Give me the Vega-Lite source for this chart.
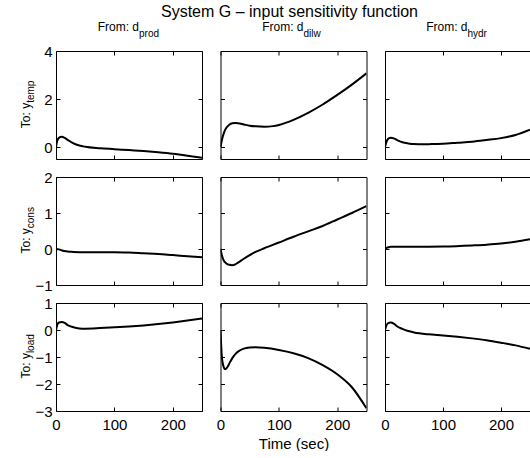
{
  "$schema": "https://vega.github.io/schema/vega-lite/v6.json",
  "padding": {"left": 20, "top": 3, "right": 0, "bottom": 0},
  "config": {
    "view": {"stroke": null},
    "axis": {"tickSize": -4, "domainColor": "black", "domainWidth": 1, "tickColor": "black", "labelColor": "black", "labelFont": "Liberation Sans", "labelFontSize": 15, "labelPadding": 8, "grid": false, "titleFont": "Liberation Sans", "titleFontSize": 15, "titleColor": "black", "titleFontWeight": "normal", "labelFlush": false, "labelOverlap": false, "labelBound": false, "titlePadding": 4}
  },
  "datasets": {
    "curves": [
      {"r":"temp","c":"prod","t":0,"v":0},{"r":"temp","c":"prod","t":2,"v":0.25},{"r":"temp","c":"prod","t":5,"v":0.38},{"r":"temp","c":"prod","t":10,"v":0.43},{"r":"temp","c":"prod","t":15,"v":0.38},{"r":"temp","c":"prod","t":20,"v":0.3},{"r":"temp","c":"prod","t":30,"v":0.15},{"r":"temp","c":"prod","t":40,"v":0.06},{"r":"temp","c":"prod","t":50,"v":0.01},{"r":"temp","c":"prod","t":75,"v":-0.05},{"r":"temp","c":"prod","t":100,"v":-0.09},{"r":"temp","c":"prod","t":125,"v":-0.13},{"r":"temp","c":"prod","t":150,"v":-0.17},{"r":"temp","c":"prod","t":175,"v":-0.22},{"r":"temp","c":"prod","t":200,"v":-0.28},{"r":"temp","c":"prod","t":225,"v":-0.36},{"r":"temp","c":"prod","t":250,"v":-0.45},
      {"r":"temp","c":"dilw","t":0,"v":0},{"r":"temp","c":"dilw","t":3,"v":0.35},{"r":"temp","c":"dilw","t":6,"v":0.6},{"r":"temp","c":"dilw","t":10,"v":0.8},{"r":"temp","c":"dilw","t":15,"v":0.93},{"r":"temp","c":"dilw","t":20,"v":0.99},{"r":"temp","c":"dilw","t":25,"v":1.0},{"r":"temp","c":"dilw","t":30,"v":0.99},{"r":"temp","c":"dilw","t":40,"v":0.94},{"r":"temp","c":"dilw","t":50,"v":0.89},{"r":"temp","c":"dilw","t":60,"v":0.86},{"r":"temp","c":"dilw","t":75,"v":0.84},{"r":"temp","c":"dilw","t":90,"v":0.87},{"r":"temp","c":"dilw","t":100,"v":0.92},{"r":"temp","c":"dilw","t":125,"v":1.13},{"r":"temp","c":"dilw","t":150,"v":1.42},{"r":"temp","c":"dilw","t":175,"v":1.77},{"r":"temp","c":"dilw","t":200,"v":2.17},{"r":"temp","c":"dilw","t":225,"v":2.6},{"r":"temp","c":"dilw","t":250,"v":3.07},
      {"r":"temp","c":"hydr","t":0,"v":0},{"r":"temp","c":"hydr","t":3,"v":0.25},{"r":"temp","c":"hydr","t":6,"v":0.35},{"r":"temp","c":"hydr","t":10,"v":0.39},{"r":"temp","c":"hydr","t":15,"v":0.36},{"r":"temp","c":"hydr","t":20,"v":0.3},{"r":"temp","c":"hydr","t":30,"v":0.2},{"r":"temp","c":"hydr","t":40,"v":0.15},{"r":"temp","c":"hydr","t":50,"v":0.12},{"r":"temp","c":"hydr","t":65,"v":0.11},{"r":"temp","c":"hydr","t":80,"v":0.12},{"r":"temp","c":"hydr","t":100,"v":0.14},{"r":"temp","c":"hydr","t":125,"v":0.18},{"r":"temp","c":"hydr","t":150,"v":0.22},{"r":"temp","c":"hydr","t":175,"v":0.29},{"r":"temp","c":"hydr","t":200,"v":0.37},{"r":"temp","c":"hydr","t":225,"v":0.5},{"r":"temp","c":"hydr","t":250,"v":0.72},
      {"r":"cons","c":"prod","t":0,"v":0},{"r":"cons","c":"prod","t":5,"v":-0.01},{"r":"cons","c":"prod","t":10,"v":-0.04},{"r":"cons","c":"prod","t":20,"v":-0.07},{"r":"cons","c":"prod","t":30,"v":-0.08},{"r":"cons","c":"prod","t":50,"v":-0.09},{"r":"cons","c":"prod","t":75,"v":-0.09},{"r":"cons","c":"prod","t":100,"v":-0.09},{"r":"cons","c":"prod","t":125,"v":-0.1},{"r":"cons","c":"prod","t":150,"v":-0.12},{"r":"cons","c":"prod","t":175,"v":-0.14},{"r":"cons","c":"prod","t":200,"v":-0.17},{"r":"cons","c":"prod","t":225,"v":-0.2},{"r":"cons","c":"prod","t":250,"v":-0.23},
      {"r":"cons","c":"dilw","t":0,"v":0},{"r":"cons","c":"dilw","t":2,"v":-0.15},{"r":"cons","c":"dilw","t":5,"v":-0.3},{"r":"cons","c":"dilw","t":10,"v":-0.4},{"r":"cons","c":"dilw","t":15,"v":-0.44},{"r":"cons","c":"dilw","t":20,"v":-0.45},{"r":"cons","c":"dilw","t":25,"v":-0.43},{"r":"cons","c":"dilw","t":30,"v":-0.38},{"r":"cons","c":"dilw","t":40,"v":-0.27},{"r":"cons","c":"dilw","t":50,"v":-0.17},{"r":"cons","c":"dilw","t":60,"v":-0.08},{"r":"cons","c":"dilw","t":75,"v":0.02},{"r":"cons","c":"dilw","t":100,"v":0.18},{"r":"cons","c":"dilw","t":125,"v":0.34},{"r":"cons","c":"dilw","t":150,"v":0.49},{"r":"cons","c":"dilw","t":175,"v":0.64},{"r":"cons","c":"dilw","t":200,"v":0.82},{"r":"cons","c":"dilw","t":225,"v":1.0},{"r":"cons","c":"dilw","t":250,"v":1.19},
      {"r":"cons","c":"hydr","t":0,"v":0},{"r":"cons","c":"hydr","t":3,"v":0.03},{"r":"cons","c":"hydr","t":6,"v":0.05},{"r":"cons","c":"hydr","t":10,"v":0.06},{"r":"cons","c":"hydr","t":20,"v":0.06},{"r":"cons","c":"hydr","t":50,"v":0.06},{"r":"cons","c":"hydr","t":100,"v":0.07},{"r":"cons","c":"hydr","t":150,"v":0.1},{"r":"cons","c":"hydr","t":175,"v":0.12},{"r":"cons","c":"hydr","t":200,"v":0.15},{"r":"cons","c":"hydr","t":225,"v":0.2},{"r":"cons","c":"hydr","t":250,"v":0.27},
      {"r":"load","c":"prod","t":0,"v":0},{"r":"load","c":"prod","t":2,"v":0.18},{"r":"load","c":"prod","t":5,"v":0.28},{"r":"load","c":"prod","t":10,"v":0.3},{"r":"load","c":"prod","t":15,"v":0.26},{"r":"load","c":"prod","t":20,"v":0.18},{"r":"load","c":"prod","t":30,"v":0.1},{"r":"load","c":"prod","t":40,"v":0.06},{"r":"load","c":"prod","t":50,"v":0.05},{"r":"load","c":"prod","t":75,"v":0.07},{"r":"load","c":"prod","t":100,"v":0.1},{"r":"load","c":"prod","t":125,"v":0.13},{"r":"load","c":"prod","t":150,"v":0.17},{"r":"load","c":"prod","t":175,"v":0.22},{"r":"load","c":"prod","t":200,"v":0.28},{"r":"load","c":"prod","t":225,"v":0.35},{"r":"load","c":"prod","t":250,"v":0.43},
      {"r":"load","c":"dilw","t":0,"v":0},{"r":"load","c":"dilw","t":1,"v":-0.5},{"r":"load","c":"dilw","t":2,"v":-0.9},{"r":"load","c":"dilw","t":4,"v":-1.25},{"r":"load","c":"dilw","t":6,"v":-1.4},{"r":"load","c":"dilw","t":8,"v":-1.45},{"r":"load","c":"dilw","t":10,"v":-1.43},{"r":"load","c":"dilw","t":13,"v":-1.33},{"r":"load","c":"dilw","t":16,"v":-1.2},{"r":"load","c":"dilw","t":20,"v":-1.05},{"r":"load","c":"dilw","t":25,"v":-0.9},{"r":"load","c":"dilw","t":30,"v":-0.8},{"r":"load","c":"dilw","t":40,"v":-0.69},{"r":"load","c":"dilw","t":50,"v":-0.65},{"r":"load","c":"dilw","t":60,"v":-0.64},{"r":"load","c":"dilw","t":75,"v":-0.66},{"r":"load","c":"dilw","t":100,"v":-0.74},{"r":"load","c":"dilw","t":125,"v":-0.86},{"r":"load","c":"dilw","t":150,"v":-1.04},{"r":"load","c":"dilw","t":175,"v":-1.3},{"r":"load","c":"dilw","t":200,"v":-1.64},{"r":"load","c":"dilw","t":225,"v":-2.12},{"r":"load","c":"dilw","t":250,"v":-2.9},
      {"r":"load","c":"hydr","t":0,"v":0},{"r":"load","c":"hydr","t":2,"v":0.15},{"r":"load","c":"hydr","t":5,"v":0.25},{"r":"load","c":"hydr","t":10,"v":0.28},{"r":"load","c":"hydr","t":15,"v":0.24},{"r":"load","c":"hydr","t":20,"v":0.15},{"r":"load","c":"hydr","t":30,"v":0.04},{"r":"load","c":"hydr","t":40,"v":-0.04},{"r":"load","c":"hydr","t":50,"v":-0.09},{"r":"load","c":"hydr","t":75,"v":-0.16},{"r":"load","c":"hydr","t":100,"v":-0.2},{"r":"load","c":"hydr","t":125,"v":-0.25},{"r":"load","c":"hydr","t":150,"v":-0.31},{"r":"load","c":"hydr","t":175,"v":-0.38},{"r":"load","c":"hydr","t":200,"v":-0.47},{"r":"load","c":"hydr","t":225,"v":-0.57},{"r":"load","c":"hydr","t":250,"v":-0.7}
    ],
    "ttl": [{"text": "System G – input sensitivity function"}],
    "hdr": [
      {"c":"prod","main":"From: d","sub":"prod"},
      {"c":"dilw","main":"From: d","sub":"dilw"},
      {"c":"hydr","main":"From: d","sub":"hydr"}
    ],
    "rowlab": [
      {"r":"temp","main":"To: y","sub":"temp"},
      {"r":"cons","main":"To: y","sub":"cons"},
      {"r":"load","main":"To: y","sub":"load"}
    ]
  },
  "data": {"name": "curves"},
  "columns": 3,
  "bounds": "flush",
  "spacing": {"row": 18, "column": 18.5},
  "concat": [
    {"width": 146, "height": 108, "resolve": {"axis": {"x": "independent", "y": "independent"}}, "layer": [
      {"transform": [{"filter": "datum.r=='temp' && datum.c=='prod'"}], "mark": {"type": "line", "color": "black", "strokeWidth": 2, "interpolate": "monotone", "clip": true},
       "encoding": {"x": {"field": "t", "type": "quantitative", "scale": {"domain": [0,250], "nice": false}, "axis": {"orient": "bottom", "values": [0,100,200], "labels": false, "title": null}},
                    "y": {"field": "v", "type": "quantitative", "scale": {"domain": [-0.5,4], "nice": false, "zero": false}, "axis": {"orient": "left", "values": [0,2,4], "title": null}}}},
      {"transform": [{"filter": "datum.r=='temp' && datum.c=='prod'"}], "mark": {"type": "line", "strokeOpacity": 0},
       "encoding": {"x": {"field": "t", "type": "quantitative", "scale": {"domain": [0,250], "nice": false}, "axis": {"orient": "top", "values": [0,100,200], "labels": false, "title": null}},
                    "y": {"field": "v", "type": "quantitative", "scale": {"domain": [-0.5,4], "nice": false, "zero": false}, "axis": {"orient": "right", "values": [0,2,4], "labels": false, "title": null}}}},
      {"data": {"name": "hdr"}, "transform": [{"filter": "datum.c=='prod'"}], "mark": {"type": "text", "align": "right", "baseline": "alphabetic", "dx": 10, "dy": -20, "fontSize": 12, "font": "Liberation Sans", "color": "black"},
       "encoding": {"x": {"datum": 125, "type": "quantitative", "scale": {"domain": [0,250], "nice": false}, "axis": null}, "y": {"datum": 4, "type": "quantitative", "scale": {"domain": [-0.5,4], "nice": false, "zero": false}, "axis": null}, "text": {"field": "main"}}},
      {"data": {"name": "hdr"}, "transform": [{"filter": "datum.c=='prod'"}], "mark": {"type": "text", "align": "left", "baseline": "alphabetic", "dx": 10, "dy": -14, "fontSize": 10, "font": "Liberation Sans", "color": "black"},
       "encoding": {"x": {"datum": 125, "type": "quantitative", "scale": {"domain": [0,250], "nice": false}, "axis": null}, "y": {"datum": 4, "type": "quantitative", "scale": {"domain": [-0.5,4], "nice": false, "zero": false}, "axis": null}, "text": {"field": "sub"}}},
      {"data": {"name": "rowlab"}, "transform": [{"filter": "datum.r=='temp'"}], "mark": {"type": "text", "align": "right", "baseline": "alphabetic", "angle": 270, "dx": 2.2, "dy": -26, "fontSize": 12, "font": "Liberation Sans", "color": "black"},
       "encoding": {"x": {"datum": 0, "type": "quantitative", "scale": {"domain": [0,250], "nice": false}, "axis": null}, "y": {"datum": 1.75, "type": "quantitative", "scale": {"domain": [-0.5,4], "nice": false, "zero": false}, "axis": null}, "text": {"field": "main"}}},
      {"data": {"name": "rowlab"}, "transform": [{"filter": "datum.r=='temp'"}], "mark": {"type": "text", "align": "left", "baseline": "alphabetic", "angle": 270, "dx": 2.2, "dy": -22, "fontSize": 10, "font": "Liberation Sans", "color": "black"},
       "encoding": {"x": {"datum": 0, "type": "quantitative", "scale": {"domain": [0,250], "nice": false}, "axis": null}, "y": {"datum": 1.75, "type": "quantitative", "scale": {"domain": [-0.5,4], "nice": false, "zero": false}, "axis": null}, "text": {"field": "sub"}}}
    ]},
    {"width": 146, "height": 108, "resolve": {"axis": {"x": "independent", "y": "independent"}}, "layer": [
      {"transform": [{"filter": "datum.r=='temp' && datum.c=='dilw'"}], "mark": {"type": "line", "color": "black", "strokeWidth": 2, "interpolate": "monotone", "clip": true},
       "encoding": {"x": {"field": "t", "type": "quantitative", "scale": {"domain": [0,250], "nice": false}, "axis": {"orient": "bottom", "values": [0,100,200], "labels": false, "title": null}},
                    "y": {"field": "v", "type": "quantitative", "scale": {"domain": [-0.5,4], "nice": false, "zero": false}, "axis": {"orient": "left", "values": [0,2,4], "labels": false, "title": null}}}},
      {"transform": [{"filter": "datum.r=='temp' && datum.c=='dilw'"}], "mark": {"type": "line", "strokeOpacity": 0},
       "encoding": {"x": {"field": "t", "type": "quantitative", "scale": {"domain": [0,250], "nice": false}, "axis": {"orient": "top", "values": [0,100,200], "labels": false, "title": null}},
                    "y": {"field": "v", "type": "quantitative", "scale": {"domain": [-0.5,4], "nice": false, "zero": false}, "axis": {"orient": "right", "values": [0,2,4], "labels": false, "title": null}}}},
      {"data": {"name": "ttl"}, "mark": {"type": "text", "align": "center", "baseline": "alphabetic", "dx": -4, "dy": -34.5, "fontSize": 16, "font": "Liberation Sans", "color": "black"},
       "encoding": {"x": {"datum": 125, "type": "quantitative", "scale": {"domain": [0,250], "nice": false}, "axis": null}, "y": {"datum": 4, "type": "quantitative", "scale": {"domain": [-0.5,4], "nice": false, "zero": false}, "axis": null}, "text": {"field": "text"}}},
      {"data": {"name": "hdr"}, "transform": [{"filter": "datum.c=='dilw'"}], "mark": {"type": "text", "align": "right", "baseline": "alphabetic", "dx": 10, "dy": -20, "fontSize": 12, "font": "Liberation Sans", "color": "black"},
       "encoding": {"x": {"datum": 125, "type": "quantitative", "scale": {"domain": [0,250], "nice": false}, "axis": null}, "y": {"datum": 4, "type": "quantitative", "scale": {"domain": [-0.5,4], "nice": false, "zero": false}, "axis": null}, "text": {"field": "main"}}},
      {"data": {"name": "hdr"}, "transform": [{"filter": "datum.c=='dilw'"}], "mark": {"type": "text", "align": "left", "baseline": "alphabetic", "dx": 10, "dy": -14, "fontSize": 10, "font": "Liberation Sans", "color": "black"},
       "encoding": {"x": {"datum": 125, "type": "quantitative", "scale": {"domain": [0,250], "nice": false}, "axis": null}, "y": {"datum": 4, "type": "quantitative", "scale": {"domain": [-0.5,4], "nice": false, "zero": false}, "axis": null}, "text": {"field": "sub"}}}
    ]},
    {"width": 145, "height": 108, "resolve": {"axis": {"x": "independent", "y": "independent"}}, "layer": [
      {"transform": [{"filter": "datum.r=='temp' && datum.c=='hydr'"}], "mark": {"type": "line", "color": "black", "strokeWidth": 2, "interpolate": "monotone", "clip": true},
       "encoding": {"x": {"field": "t", "type": "quantitative", "scale": {"domain": [0,250], "nice": false}, "axis": {"orient": "bottom", "values": [0,100,200], "labels": false, "title": null}},
                    "y": {"field": "v", "type": "quantitative", "scale": {"domain": [-0.5,4], "nice": false, "zero": false}, "axis": {"orient": "left", "values": [0,2,4], "labels": false, "title": null}}}},
      {"transform": [{"filter": "datum.r=='temp' && datum.c=='hydr'"}], "mark": {"type": "line", "strokeOpacity": 0},
       "encoding": {"x": {"field": "t", "type": "quantitative", "scale": {"domain": [0,250], "nice": false}, "axis": {"orient": "top", "values": [0,100,200], "labels": false, "title": null}},
                    "y": {"field": "v", "type": "quantitative", "scale": {"domain": [-0.5,4], "nice": false, "zero": false}, "axis": null}}},
      {"data": {"name": "hdr"}, "transform": [{"filter": "datum.c=='hydr'"}], "mark": {"type": "text", "align": "right", "baseline": "alphabetic", "dx": 10, "dy": -20, "fontSize": 12, "font": "Liberation Sans", "color": "black"},
       "encoding": {"x": {"datum": 125, "type": "quantitative", "scale": {"domain": [0,250], "nice": false}, "axis": null}, "y": {"datum": 4, "type": "quantitative", "scale": {"domain": [-0.5,4], "nice": false, "zero": false}, "axis": null}, "text": {"field": "main"}}},
      {"data": {"name": "hdr"}, "transform": [{"filter": "datum.c=='hydr'"}], "mark": {"type": "text", "align": "left", "baseline": "alphabetic", "dx": 10, "dy": -14, "fontSize": 10, "font": "Liberation Sans", "color": "black"},
       "encoding": {"x": {"datum": 125, "type": "quantitative", "scale": {"domain": [0,250], "nice": false}, "axis": null}, "y": {"datum": 4, "type": "quantitative", "scale": {"domain": [-0.5,4], "nice": false, "zero": false}, "axis": null}, "text": {"field": "sub"}}}
    ]},
    {"width": 146, "height": 108, "resolve": {"axis": {"x": "independent", "y": "independent"}}, "layer": [
      {"transform": [{"filter": "datum.r=='cons' && datum.c=='prod'"}], "mark": {"type": "line", "color": "black", "strokeWidth": 2, "interpolate": "monotone", "clip": true},
       "encoding": {"x": {"field": "t", "type": "quantitative", "scale": {"domain": [0,250], "nice": false}, "axis": {"orient": "bottom", "values": [0,100,200], "labels": false, "title": null}},
                    "y": {"field": "v", "type": "quantitative", "scale": {"domain": [-1,2], "nice": false, "zero": false}, "axis": {"orient": "left", "values": [-1,0,1,2], "title": null}}}},
      {"transform": [{"filter": "datum.r=='cons' && datum.c=='prod'"}], "mark": {"type": "line", "strokeOpacity": 0},
       "encoding": {"x": {"field": "t", "type": "quantitative", "scale": {"domain": [0,250], "nice": false}, "axis": {"orient": "top", "values": [0,100,200], "labels": false, "title": null}},
                    "y": {"field": "v", "type": "quantitative", "scale": {"domain": [-1,2], "nice": false, "zero": false}, "axis": {"orient": "right", "values": [-1,0,1,2], "labels": false, "title": null}}}},
      {"data": {"name": "rowlab"}, "transform": [{"filter": "datum.r=='cons'"}], "mark": {"type": "text", "align": "right", "baseline": "alphabetic", "angle": 270, "dx": 2.8, "dy": -26, "fontSize": 12, "font": "Liberation Sans", "color": "black"},
       "encoding": {"x": {"datum": 0, "type": "quantitative", "scale": {"domain": [0,250], "nice": false}, "axis": null}, "y": {"datum": 0.5, "type": "quantitative", "scale": {"domain": [-1,2], "nice": false, "zero": false}, "axis": null}, "text": {"field": "main"}}},
      {"data": {"name": "rowlab"}, "transform": [{"filter": "datum.r=='cons'"}], "mark": {"type": "text", "align": "left", "baseline": "alphabetic", "angle": 270, "dx": 2.8, "dy": -22, "fontSize": 10, "font": "Liberation Sans", "color": "black"},
       "encoding": {"x": {"datum": 0, "type": "quantitative", "scale": {"domain": [0,250], "nice": false}, "axis": null}, "y": {"datum": 0.5, "type": "quantitative", "scale": {"domain": [-1,2], "nice": false, "zero": false}, "axis": null}, "text": {"field": "sub"}}}
    ]},
    {"width": 146, "height": 108, "resolve": {"axis": {"x": "independent", "y": "independent"}}, "layer": [
      {"transform": [{"filter": "datum.r=='cons' && datum.c=='dilw'"}], "mark": {"type": "line", "color": "black", "strokeWidth": 2, "interpolate": "monotone", "clip": true},
       "encoding": {"x": {"field": "t", "type": "quantitative", "scale": {"domain": [0,250], "nice": false}, "axis": {"orient": "bottom", "values": [0,100,200], "labels": false, "title": null}},
                    "y": {"field": "v", "type": "quantitative", "scale": {"domain": [-1,2], "nice": false, "zero": false}, "axis": {"orient": "left", "values": [-1,0,1,2], "labels": false, "title": null}}}},
      {"transform": [{"filter": "datum.r=='cons' && datum.c=='dilw'"}], "mark": {"type": "line", "strokeOpacity": 0},
       "encoding": {"x": {"field": "t", "type": "quantitative", "scale": {"domain": [0,250], "nice": false}, "axis": {"orient": "top", "values": [0,100,200], "labels": false, "title": null}},
                    "y": {"field": "v", "type": "quantitative", "scale": {"domain": [-1,2], "nice": false, "zero": false}, "axis": {"orient": "right", "values": [-1,0,1,2], "labels": false, "title": null}}}}
    ]},
    {"width": 145, "height": 108, "resolve": {"axis": {"x": "independent", "y": "independent"}}, "layer": [
      {"transform": [{"filter": "datum.r=='cons' && datum.c=='hydr'"}], "mark": {"type": "line", "color": "black", "strokeWidth": 2, "interpolate": "monotone", "clip": true},
       "encoding": {"x": {"field": "t", "type": "quantitative", "scale": {"domain": [0,250], "nice": false}, "axis": {"orient": "bottom", "values": [0,100,200], "labels": false, "title": null}},
                    "y": {"field": "v", "type": "quantitative", "scale": {"domain": [-1,2], "nice": false, "zero": false}, "axis": {"orient": "left", "values": [-1,0,1,2], "labels": false, "title": null}}}},
      {"transform": [{"filter": "datum.r=='cons' && datum.c=='hydr'"}], "mark": {"type": "line", "strokeOpacity": 0},
       "encoding": {"x": {"field": "t", "type": "quantitative", "scale": {"domain": [0,250], "nice": false}, "axis": {"orient": "top", "values": [0,100,200], "labels": false, "title": null}},
                    "y": {"field": "v", "type": "quantitative", "scale": {"domain": [-1,2], "nice": false, "zero": false}, "axis": null}}}
    ]},
    {"width": 146, "height": 108, "resolve": {"axis": {"x": "independent", "y": "independent"}}, "layer": [
      {"transform": [{"filter": "datum.r=='load' && datum.c=='prod'"}], "mark": {"type": "line", "color": "black", "strokeWidth": 2, "interpolate": "monotone", "clip": true},
       "encoding": {"x": {"field": "t", "type": "quantitative", "scale": {"domain": [0,250], "nice": false}, "axis": {"orient": "bottom", "values": [0,100,200], "title": null, "labelPadding": 10}},
                    "y": {"field": "v", "type": "quantitative", "scale": {"domain": [-3,1], "nice": false, "zero": false}, "axis": {"orient": "left", "values": [-3,-2,-1,0,1], "title": null}}}},
      {"transform": [{"filter": "datum.r=='load' && datum.c=='prod'"}], "mark": {"type": "line", "strokeOpacity": 0},
       "encoding": {"x": {"field": "t", "type": "quantitative", "scale": {"domain": [0,250], "nice": false}, "axis": {"orient": "top", "values": [0,100,200], "labels": false, "title": null}},
                    "y": {"field": "v", "type": "quantitative", "scale": {"domain": [-3,1], "nice": false, "zero": false}, "axis": {"orient": "right", "values": [-3,-2,-1,0,1], "labels": false, "title": null}}}},
      {"data": {"name": "rowlab"}, "transform": [{"filter": "datum.r=='load'"}], "mark": {"type": "text", "align": "right", "baseline": "alphabetic", "angle": 270, "dx": 3.9, "dy": -26, "fontSize": 12, "font": "Liberation Sans", "color": "black"},
       "encoding": {"x": {"datum": 0, "type": "quantitative", "scale": {"domain": [0,250], "nice": false}, "axis": null}, "y": {"datum": -1, "type": "quantitative", "scale": {"domain": [-3,1], "nice": false, "zero": false}, "axis": null}, "text": {"field": "main"}}},
      {"data": {"name": "rowlab"}, "transform": [{"filter": "datum.r=='load'"}], "mark": {"type": "text", "align": "left", "baseline": "alphabetic", "angle": 270, "dx": 3.9, "dy": -22, "fontSize": 10, "font": "Liberation Sans", "color": "black"},
       "encoding": {"x": {"datum": 0, "type": "quantitative", "scale": {"domain": [0,250], "nice": false}, "axis": null}, "y": {"datum": -1, "type": "quantitative", "scale": {"domain": [-3,1], "nice": false, "zero": false}, "axis": null}, "text": {"field": "sub"}}}
    ]},
    {"width": 146, "height": 108, "resolve": {"axis": {"x": "independent", "y": "independent"}}, "layer": [
      {"transform": [{"filter": "datum.r=='load' && datum.c=='dilw'"}], "mark": {"type": "line", "color": "black", "strokeWidth": 2, "interpolate": "monotone", "clip": true},
       "encoding": {"x": {"field": "t", "type": "quantitative", "scale": {"domain": [0,250], "nice": false}, "axis": {"orient": "bottom", "values": [0,100,200], "title": "Time (sec)", "labelPadding": 10}},
                    "y": {"field": "v", "type": "quantitative", "scale": {"domain": [-3,1], "nice": false, "zero": false}, "axis": {"orient": "left", "values": [-3,-2,-1,0,1], "labels": false, "title": null}}}},
      {"transform": [{"filter": "datum.r=='load' && datum.c=='dilw'"}], "mark": {"type": "line", "strokeOpacity": 0},
       "encoding": {"x": {"field": "t", "type": "quantitative", "scale": {"domain": [0,250], "nice": false}, "axis": {"orient": "top", "values": [0,100,200], "labels": false, "title": null}},
                    "y": {"field": "v", "type": "quantitative", "scale": {"domain": [-3,1], "nice": false, "zero": false}, "axis": {"orient": "right", "values": [-3,-2,-1,0,1], "labels": false, "title": null}}}}
    ]},
    {"width": 145, "height": 108, "resolve": {"axis": {"x": "independent", "y": "independent"}}, "layer": [
      {"transform": [{"filter": "datum.r=='load' && datum.c=='hydr'"}], "mark": {"type": "line", "color": "black", "strokeWidth": 2, "interpolate": "monotone", "clip": true},
       "encoding": {"x": {"field": "t", "type": "quantitative", "scale": {"domain": [0,250], "nice": false}, "axis": {"orient": "bottom", "values": [0,100,200], "title": null, "labelPadding": 10}},
                    "y": {"field": "v", "type": "quantitative", "scale": {"domain": [-3,1], "nice": false, "zero": false}, "axis": {"orient": "left", "values": [-3,-2,-1,0,1], "labels": false, "title": null}}}},
      {"transform": [{"filter": "datum.r=='load' && datum.c=='hydr'"}], "mark": {"type": "line", "strokeOpacity": 0},
       "encoding": {"x": {"field": "t", "type": "quantitative", "scale": {"domain": [0,250], "nice": false}, "axis": {"orient": "top", "values": [0,100,200], "labels": false, "title": null}},
                    "y": {"field": "v", "type": "quantitative", "scale": {"domain": [-3,1], "nice": false, "zero": false}, "axis": null}}}
    ]}
  ]
}
